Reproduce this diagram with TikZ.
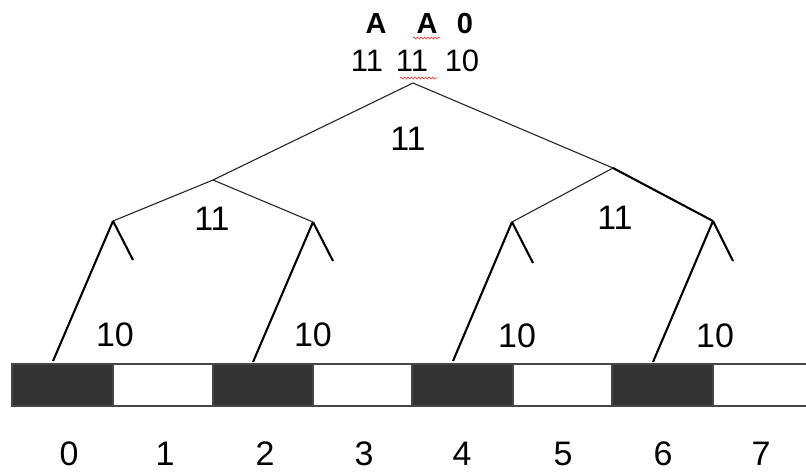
\documentclass[tikz,border=0pt]{standalone}
\usepackage{fontspec}
\setmainfont{Liberation Sans}
\usetikzlibrary{decorations.pathmorphing}
\definecolor{cellgray}{HTML}{333333}
\definecolor{edgegray}{HTML}{474747}
\begin{document}
\begin{tikzpicture}[x=1pt,y=-1pt,
  thinline/.style={line width=1.1pt, draw=black!85},
  thickline/.style={line width=2.1pt, draw=black},
  lbl/.style={inner sep=0pt, font=\fontsize{34}{36}\selectfont},
  toplbl/.style={inner sep=0pt, font=\fontsize{31}{33}\selectfont},
  boldlbl/.style={inner sep=0pt, font=\fontsize{29}{31}\selectfont\bfseries},
  darkcell/.style={fill=cellgray, draw=edgegray, line width=1.5pt},
  lightcell/.style={fill=white, draw=edgegray, line width=1.5pt},
  squiggle/.style={draw=red!85, line width=0.6pt, decorate,
    decoration={snake, amplitude=1pt, segment length=3.5pt}}
]
\useasboundingbox (0,0) rectangle (806,472);

% ---------- bar ----------
\begin{scope}
\clip (0,300) rectangle (806,420);
\foreach \i/\xa/\xb in {0/12/113, 2/213/313, 4/412/513, 6/612/713}
  \path[darkcell] (\xa,364) rectangle (\xb,406);
\foreach \i/\xa/\xb in {1/113/213, 3/313/412, 5/513/612, 7/713/830}
  \path[lightcell] (\xa,364) rectangle (\xb,406);
\draw[edgegray, line width=2.2pt] (830,364) -- (12,364) -- (12,406) -- (830,406);
\end{scope}

% ---------- tree coordinates ----------
\coordinate (r)  at (413,83);
\coordinate (a)  at (213,180);
\coordinate (b)  at (613,168);
\coordinate (a1) at (113,221);
\coordinate (a2) at (313,222);
\coordinate (b1) at (512,222);
\coordinate (b2) at (713,221);
\coordinate (a1l) at (53,361);
\coordinate (a1s) at (133,260);
\coordinate (a2l) at (253,362);
\coordinate (a2s) at (333,261);
\coordinate (b1l) at (453,361);
\coordinate (b1s) at (533,263);
\coordinate (b2l) at (653,362);
\coordinate (b2s) at (733,261);

% ---------- tree edges ----------
\draw[thinline] (r) -- (a);
\draw[thinline] (r) -- (b);
\draw[thinline] (a) -- (a1);
\draw[thinline] (a) -- (a2);
\draw[thinline] (b) -- (b1);
\draw[thickline] (b) -- (b2);
\foreach \n in {a1,a2,b1,b2} {
  \draw[thickline] (\n) -- (\n l);
  \draw[thickline] (\n) -- (\n s);
}

% ---------- labels ----------
\node[lbl] (m0) at (408,139) {11};
\node[lbl] (m1) at (212,219) {11};
\node[lbl] (m2) at (615,218) {11};
\node[lbl] (t0) at (115,335) {10};
\node[lbl] (t1) at (313,335) {10};
\node[lbl] (t2) at (517,336) {10};
\node[lbl] (t3) at (715,336) {10};

\foreach \k/\x in {0/69,1/165,2/265,3/364,4/462,5/563,6/663,7/761}
  \node[lbl] (n\k) at (\x,454) {\k};

\node[boldlbl] (A1) at (376,24) {A};
\node[boldlbl] (A2) at (427,24) {A};
\node[boldlbl] (Z)  at (465,24) {0};
\node[toplbl] (v1) at (367,61) {11};
\node[toplbl] (v2) at (412,61) {11};
\node[toplbl] (v3) at (462,61) {10};

\draw[squiggle] (413,38) -- (440,38);
\draw[squiggle] (400,78) -- (437,78);
\end{tikzpicture}
\end{document}
